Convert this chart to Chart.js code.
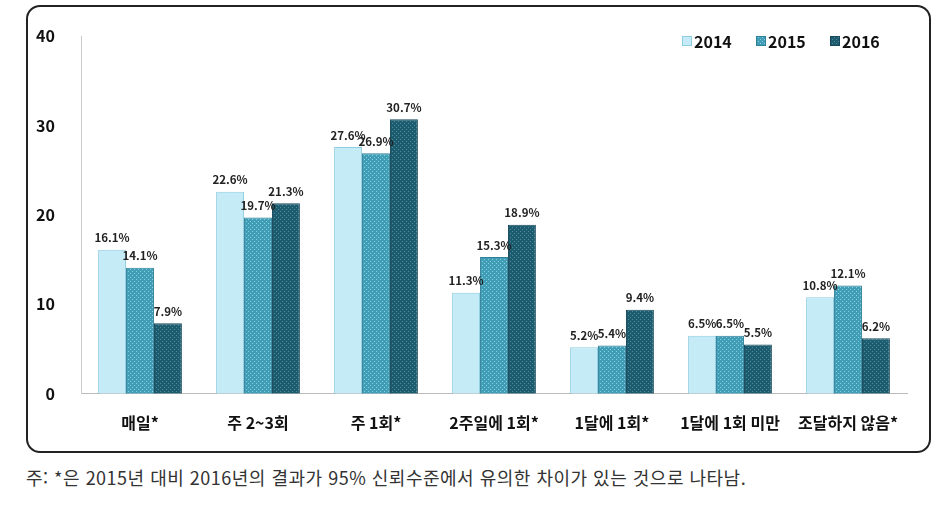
<!DOCTYPE html>
<html lang="ko">
<head>
<meta charset="UTF-8">
<title>조달 빈도</title>
<script src="https://cdn.jsdelivr.net/npm/chart.js"></script>
<style>
  body { margin: 0; background: #fff; font-family: "Noto Sans CJK KR", sans-serif; }
  #box { position: absolute; left: 26px; top: 5px; width: 901px; height: 444px;
         border: 2px solid #222; border-radius: 14px; }
  #note { position: absolute; left: 26px; top: 464px; font-size: 18px; color: #333;
          letter-spacing: 0.5px; font-family: "Noto Sans CJK KR", sans-serif; white-space: nowrap; }
</style>
</head>
<body>
<div id="box"><canvas id="grafico" width="901" height="444"></canvas></div>
<div id="note">주: *은 2015년 대비 2016년의 결과가 95% 신뢰수준에서 유의한 차이가 있는 것으로 나타남.</div>
<script>
const categorias = ['매일*', '주 2~3회', '주 1회*', '2주일에 1회*', '1달에 1회*', '1달에 1회 미만', '조달하지 않음*'];
const anios = ['2014', '2015', '2016'];
const valores2014 = [16.1, 22.6, 27.6, 11.3, 5.2, 6.5, 10.8];
const valores2015 = [14.1, 19.7, 26.9, 15.3, 5.4, 6.5, 12.1];
const valores2016 = [7.9, 21.3, 30.7, 18.9, 9.4, 5.5, 6.2];

// dotted fill like the original
function patron(base, punto) {
  const c = document.createElement('canvas');
  c.width = 4; c.height = 4;
  const g = c.getContext('2d');
  g.fillStyle = base; g.fillRect(0, 0, 4, 4);
  g.fillStyle = punto; g.fillRect(0, 0, 1, 1); g.fillRect(2, 2, 1, 1);
  return g.createPattern(c, 'repeat');
}

const etiquetas = {
  id: 'etiquetas',
  afterDatasetsDraw(chart) {
    const ctx = chart.ctx;
    ctx.save();
    ctx.font = 'bold 11.5px "Noto Sans CJK KR"';
    ctx.fillStyle = '#222';
    ctx.textAlign = 'center';
    ctx.textBaseline = 'bottom';
    chart.data.datasets.forEach((ds, i) => {
      chart.getDatasetMeta(i).data.forEach((bar, j) => {
        ctx.fillText(ds.data[j].toFixed(1) + '%', bar.x, bar.y - 6);
      });
    });
    // legend, top right inside the plot
    ctx.font = 'bold 16px "Noto Sans CJK KR"';
    ctx.textAlign = 'left';
    ctx.textBaseline = 'middle';
    let x = chart.chartArea.right - 225;
    const y = chart.chartArea.top + 5;
    chart.data.datasets.forEach((ds) => {
      ctx.fillStyle = ds.backgroundColor;
      ctx.fillRect(x, y - 5, 10, 10);
      ctx.strokeStyle = ds.borderColor;
      ctx.lineWidth = 1;
      ctx.strokeRect(x + 0.5, y - 4.5, 9, 9);
      ctx.fillStyle = '#111';
      ctx.fillText(ds.label, x + 12, y + 1);
      x += 74;
    });
    ctx.restore();
  }
};

new Chart(document.getElementById('grafico'), {
  type: 'bar',
  data: {
    labels: categorias,
    datasets: [
      { label: anios[0], data: valores2014, backgroundColor: '#c4ebf6', borderColor: '#8fcde0', borderWidth: 1 },
      { label: anios[1], data: valores2015, backgroundColor: patron('#3f9db5', '#8ccfe0'), borderColor: '#2f8098', borderWidth: 1 },
      { label: anios[2], data: valores2016, backgroundColor: patron('#1d5b6f', '#4d8b9d'), borderColor: '#16485a', borderWidth: 1 }
    ]
  },
  options: {
    responsive: false,
    animation: false,
    layout: { padding: { top: 29, right: 22, left: 0, bottom: 6 } },
    categoryPercentage: 0.71,
    barPercentage: 1.0,
    plugins: {
      legend: { display: false },
      tooltip: { enabled: false }
    },
    scales: {
      x: {
        grid: { display: false },
        border: { color: '#bbb' },
        ticks: { color: '#111', padding: 12, font: { size: 16, weight: 'bold', family: '"Noto Sans CJK KR"' } }
      },
      y: {
        min: 0, max: 40,
        grid: { display: false },
        border: { color: '#ccc' },
        afterFit(scale) { scale.width = 53; },
        ticks: { stepSize: 10, color: '#111', padding: 18, font: { size: 16, weight: 'bold', family: '"Noto Sans CJK KR"' } }
      }
    }
  },
  plugins: [etiquetas]
});
</script>
</body>
</html>
